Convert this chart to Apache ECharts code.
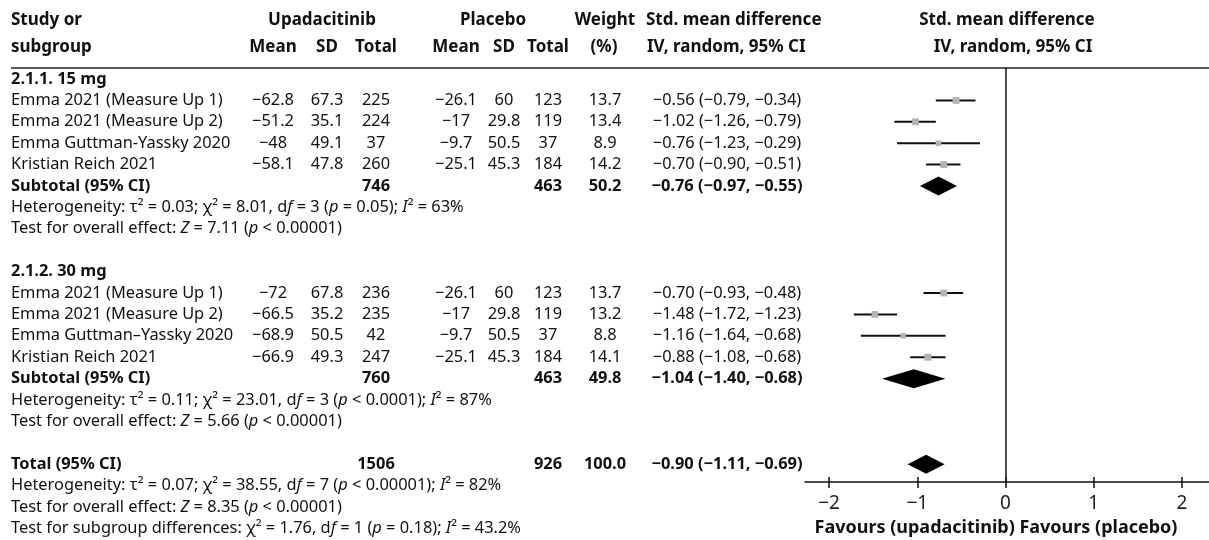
<!DOCTYPE html>
<html><head><meta charset="utf-8">
<script src="https://cdn.jsdelivr.net/npm/echarts@6/dist/echarts.min.js"></script>
<style>html,body{margin:0;padding:0;background:#fff}#c{width:1209px;height:540px}</style>
</head><body><div id="c"></div>
<script>
// ---------- data ----------
const group15Label = '2.1.1. 15 mg';
const group30Label = '2.1.2. 30 mg';
const studies15 = ['Emma 2021 (Measure Up 1)', 'Emma 2021 (Measure Up 2)', 'Emma Guttman-Yassky 2020', 'Kristian Reich 2021'];
const upaMean15 = [-62.8, -51.2, -48, -58.1];
const upaSD15 = [67.3, 35.1, 49.1, 47.8];
const upaN15 = [225, 224, 37, 260];
const plaMean15 = [-26.1, -17, -9.7, -25.1];
const plaSD15 = [60, 29.8, 50.5, 45.3];
const plaN15 = [123, 119, 37, 184];
const weight15 = [13.7, 13.4, 8.9, 14.2];
const smd15 = [-0.56, -1.02, -0.76, -0.70];
const lo15 = [-0.79, -1.26, -1.23, -0.90];
const hi15 = [-0.34, -0.79, -0.29, -0.51];
const subtotal15 = [746, 463, 50.2, -0.76, -0.97, -0.55]; // upaN, plaN, weight, smd, lo, hi
const het15 = '{n|Heterogeneity: τ² = 0.03; χ² = 8.01, d}{i|f}{n| = 3 (}{i|p}{n| = 0.05); }{i|I}{n|² = 63%}';
const eff15 = '{n|Test for overall effect: }{i|Z}{n| = 7.11 (}{i|p}{n| < 0.00001)}';

const studies30 = ['Emma 2021 (Measure Up 1)', 'Emma 2021 (Measure Up 2)', 'Emma Guttman–Yassky 2020', 'Kristian Reich 2021'];
const upaMean30 = [-72, -66.5, -68.9, -66.9];
const upaSD30 = [67.8, 35.2, 50.5, 49.3];
const upaN30 = [236, 235, 42, 247];
const plaMean30 = [-26.1, -17, -9.7, -25.1];
const plaSD30 = [60, 29.8, 50.5, 45.3];
const plaN30 = [123, 119, 37, 184];
const weight30 = [13.7, 13.2, 8.8, 14.1];
const smd30 = [-0.70, -1.48, -1.16, -0.88];
const lo30 = [-0.93, -1.72, -1.64, -1.08];
const hi30 = [-0.48, -1.23, -0.68, -0.68];
const subtotal30 = [760, 463, 49.8, -1.04, -1.40, -0.68];
const het30 = '{n|Heterogeneity: τ² = 0.11; χ² = 23.01, d}{i|f}{n| = 3 (}{i|p}{n| < 0.0001); }{i|I}{n|² = 87%}';
const eff30 = '{n|Test for overall effect: }{i|Z}{n| = 5.66 (}{i|p}{n| < 0.00001)}';

const totalRow = [1506, 926, 100.0, -0.90, -1.11, -0.69];
const hetTotal = '{n|Heterogeneity: τ² = 0.07; χ² = 38.55, d}{i|f}{n| = 7 (}{i|p}{n| < 0.00001); }{i|I}{n|² = 82%}';
const effTotal = '{n|Test for overall effect: }{i|Z}{n| = 8.35 (}{i|p}{n| < 0.00001)}';
const subgroupTest = '{n|Test for subgroup differences: χ² = 1.76, d}{i|f}{n| = 1 (}{i|p}{n| = 0.18); }{i|I}{n|² = 43.2%}';

const xTicks = [-2, -1, 0, 1, 2];
const axisTitle = 'Favours (upadacitinib) Favours (placebo)';

// ---------- layout ----------
const FONT = 'Noto Sans';
const BODY = 16.4;
const GRID_TOP = 68, GRID_BOTTOM = 58, H = 540;
const Y_MIN = -0.514, Y_MAX = 18.83;
const PITCH = (H - GRID_TOP - GRID_BOTTOM) / (Y_MAX - Y_MIN);
const rowY = k => GRID_TOP + (k - Y_MIN) * PITCH;

const col = { study: 11, uMean: 273, uSD: 327, uN: 376, pMean: 456, pSD: 504, pN: 548, w: 605, ci: 727 };

const neg = v => (v < 0 ? '−' + String(Math.abs(v)) : String(v));
const f2 = v => (v < 0 ? '−' : '') + Math.abs(v).toFixed(2);
const ciText = (e, l, h) => f2(e) + ' (' + f2(l) + ', ' + f2(h) + ')';

const graphics = [];
function txt(x, y, text, align, opt) {
  opt = opt || {};
  const size = opt.size || BODY;
  const weight = opt.bold ? 'bold' : 'normal';
  const style = {
    text: text, fill: '#111', fontFamily: FONT, fontSize: size, fontWeight: weight,
    align: align, verticalAlign: 'middle', textAlign: align, textVerticalAlign: 'middle'
  };
  if (opt.rich) {
    style.rich = {
      n: { fontFamily: FONT, fontSize: size, fill: '#111', color: '#111' },
      i: { fontFamily: FONT, fontSize: size, fontStyle: 'italic', fill: '#111', color: '#111' }
    };
  }
  graphics.push({ type: 'text', x: x, y: y, silent: true, style: style });
}

// headers
const HY1 = 20, HY2 = 47, HS = 17;
txt(col.study, HY1, 'Study or', 'left', { size: HS, bold: true });
txt(col.study, HY2, 'subgroup', 'left', { size: HS, bold: true });
txt(322, HY1, 'Upadacitinib', 'center', { size: HS, bold: true });
txt(493, HY1, 'Placebo', 'center', { size: HS, bold: true });
txt(605, HY1, 'Weight', 'center', { size: HS, bold: true });
txt(646, HY1, 'Std. mean difference', 'left', { size: HS, bold: true });
txt(1007, HY1, 'Std. mean difference', 'center', { size: HS, bold: true });
[['Mean', col.uMean], ['SD', col.uSD], ['Total', col.uN], ['Mean', col.pMean], ['SD', col.pSD], ['Total', col.pN], ['(%)', 604]]
  .forEach(([t, x]) => txt(x, HY2, t, 'center', { size: HS, bold: true }));
txt(647, HY2, 'IV, random, 95% CI', 'left', { size: HS, bold: true });
txt(1013, HY2, 'IV, random, 95% CI', 'center', { size: HS, bold: true });
graphics.push({ type: 'line', silent: true, shape: { x1: 11, y1: GRID_TOP, x2: 1209, y2: GRID_TOP }, style: { stroke: '#222', lineWidth: 1.5 } });

const studyPts = [];
const diamonds = [];
function addGroup(startRow, label, names, um, us, un, pm, ps, pn, w, e, l, h, sub, het, eff) {
  if (label) txt(col.study, rowY(startRow), label, 'left', { bold: true });
  names.forEach((n, i) => {
    const y = rowY(startRow + 1 + i);
    txt(col.study, y, n, 'left');
    txt(col.uMean, y, neg(um[i]), 'center');
    txt(col.uSD, y, String(us[i]), 'center');
    txt(col.uN, y, String(un[i]), 'center');
    txt(col.pMean, y, neg(pm[i]), 'center');
    txt(col.pSD, y, String(ps[i]), 'center');
    txt(col.pN, y, String(pn[i]), 'center');
    txt(col.w, y, w[i].toFixed(1), 'center');
    txt(col.ci, y, ciText(e[i], l[i], h[i]), 'center');
    studyPts.push([e[i], l[i], h[i], startRow + 1 + i, w[i]]);
  });
  const sr = startRow + 1 + names.length;
  const sy = rowY(sr);
  txt(col.study, sy, 'Subtotal (95% CI)', 'left', { bold: true });
  txt(col.uN, sy, String(sub[0]), 'center', { bold: true });
  txt(col.pN, sy, String(sub[1]), 'center', { bold: true });
  txt(col.w, sy, sub[2].toFixed(1), 'center', { bold: true });
  txt(col.ci, sy, ciText(sub[3], sub[4], sub[5]), 'center', { bold: true });
  diamonds.push([sub[3], sub[4], sub[5], sr]);
  txt(col.study, rowY(sr + 1), het, 'left', { rich: true });
  txt(col.study, rowY(sr + 2), eff, 'left', { rich: true });
}
addGroup(0, group15Label, studies15, upaMean15, upaSD15, upaN15, plaMean15, plaSD15, plaN15, weight15, smd15, lo15, hi15, subtotal15, het15, eff15);
addGroup(9, group30Label, studies30, upaMean30, upaSD30, upaN30, plaMean30, plaSD30, plaN30, weight30, smd30, lo30, hi30, subtotal30, het30, eff30);

const ty = rowY(18);
txt(col.study, ty, 'Total (95% CI)', 'left', { bold: true });
txt(col.uN, ty, String(totalRow[0]), 'center', { bold: true });
txt(col.pN, ty, String(totalRow[1]), 'center', { bold: true });
txt(col.w, ty, totalRow[2].toFixed(1), 'center', { bold: true });
txt(col.ci, ty, ciText(totalRow[3], totalRow[4], totalRow[5]), 'center', { bold: true });
diamonds.push([totalRow[3], totalRow[4], totalRow[5], 18]);
txt(col.study, rowY(19), hetTotal, 'left', { rich: true });
txt(col.study, rowY(20), effTotal, 'left', { rich: true });
txt(col.study, rowY(21), subgroupTest, 'left', { rich: true });

txt(996, 528, axisTitle, 'center', { size: 18, bold: true });

// ---------- chart ----------
const X_MIN = -2.273, X_MAX = 2.307;
const gridBox = { left: 805, right: 0, top: GRID_TOP, bottom: GRID_BOTTOM };
const chart = echarts.init(document.getElementById('c'), null, { renderer: 'canvas' });
chart.setOption({
  animation: false,
  backgroundColor: '#fff',
  grid: [Object.assign({}, gridBox), Object.assign({}, gridBox)],
  xAxis: [{
    gridIndex: 0, type: 'value', min: X_MIN, max: X_MAX, position: 'bottom',
    axisLine: { show: true, onZero: false, lineStyle: { color: '#111', width: 1.5 } },
    axisTick: { show: true, inside: true, length: 5, customValues: xTicks, lineStyle: { color: '#111', width: 1.5 } },
    axisLabel: { show: true, customValues: xTicks, margin: 12, fontFamily: FONT, fontSize: 19, color: '#222',
      formatter: v => neg(v) },
    splitLine: { show: false }
  }, {
    gridIndex: 1, type: 'value', min: X_MIN, max: X_MAX, position: 'bottom',
    axisLine: { show: false, onZero: false },
    axisTick: { show: true, inside: false, length: 6, customValues: xTicks, lineStyle: { color: '#111', width: 1.5 } },
    axisLabel: { show: false },
    splitLine: { show: false }
  }],
  yAxis: [
    { gridIndex: 0, type: 'value', min: Y_MIN, max: Y_MAX, inverse: true, show: false },
    { gridIndex: 1, type: 'value', min: Y_MIN, max: Y_MAX, inverse: true, show: false }
  ],
  graphic: graphics,
  series: [{
    type: 'custom',
    xAxisIndex: 0, yAxisIndex: 0,
    data: studyPts,
    encode: { x: [0, 1, 2], y: 3 },
    renderItem: (params, api) => {
      const y = api.coord([0, api.value(3)])[1];
      const xl = api.coord([api.value(1), 0])[0];
      const xh = api.coord([api.value(2), 0])[0];
      const xe = api.coord([api.value(0), 0])[0];
      const s = Math.sqrt(api.value(4)) * 1.85;
      return {
        type: 'group', children: [
          { type: 'line', shape: { x1: xl, y1: y, x2: xh, y2: y }, style: { stroke: '#111', lineWidth: 2 } },
          { type: 'rect', shape: { x: xe - s / 2, y: y - s / 2, width: s, height: s }, style: { fill: '#b3b3b3' } }
        ]
      };
    },
    markLine: {
      silent: true, symbol: 'none', label: { show: false },
      lineStyle: { color: '#111', width: 1.5, type: 'solid' },
      data: [{ xAxis: 0 }]
    }
  }, {
    type: 'custom',
    xAxisIndex: 0, yAxisIndex: 0,
    data: diamonds,
    encode: { x: [0, 1, 2], y: 3 },
    renderItem: (params, api) => {
      const y = api.coord([0, api.value(3)])[1];
      const xl = api.coord([api.value(1), 0])[0];
      const xh = api.coord([api.value(2), 0])[0];
      const xe = api.coord([api.value(0), 0])[0];
      const hh = 9.5;
      return { type: 'polygon', shape: { points: [[xl, y], [xe, y - hh], [xh, y], [xe, y + hh]] }, style: { fill: '#000' } };
    }
  }]
});
</script>
</body></html>
